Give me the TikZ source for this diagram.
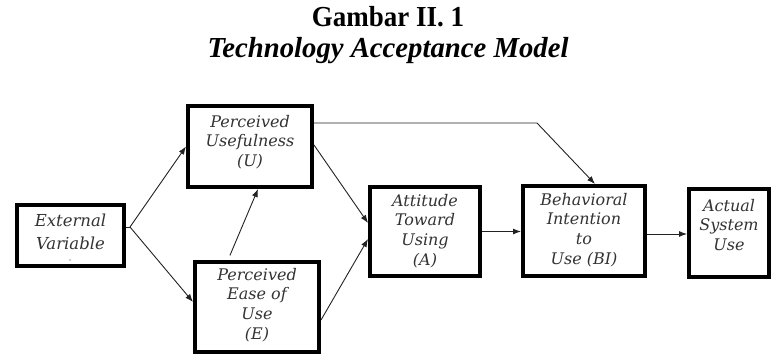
\documentclass[tikz,border=0pt]{standalone}
\usepackage{fontspec}
\setmainfont{Liberation Serif}
\newfontfamily\boxfont{DejaVu Serif}
\usetikzlibrary{arrows.meta}
\definecolor{txtc}{HTML}{333333}
\definecolor{arrc}{HTML}{222222}
\begin{document}
\begin{tikzpicture}[x=1pt,y=-1pt,
  box/.style={draw=black,line width=4pt,inner sep=0pt,fill=white},
  lbl/.style={font=\boxfont\itshape\fontsize{16}{19.8}\selectfont,text=txtc,align=center,inner sep=0pt},
  ttl/.style={font=\bfseries\fontsize{29}{32}\selectfont,inner sep=0pt},
  arr/.style={-{Latex[length=8pt,width=6pt]},line width=0.9pt,draw=arrc}]
\useasboundingbox (0,0) rectangle (773,356);
% title
\node[ttl] (t1) at (388,17) {\scalebox{0.93}[1]{Gambar II. 1}};
\node[ttl,font=\bfseries\itshape\fontsize{29}{32}\selectfont] (t2) at (388,51) {\scalebox{0.99}[1]{Technology Acceptance Model}};
% boxes
\node[box,minimum width=107pt,minimum height=61pt] (ev) at (70.5,235.5) {};
\node[box,minimum width=124pt,minimum height=81pt] (pu) at (250,146.5) {};
\node[box,minimum width=124pt,minimum height=90pt] (peou) at (257,307) {};
\node[box,minimum width=110pt,minimum height=89pt] (att) at (425,231.5) {};
\node[box,minimum width=122pt,minimum height=90pt] (bi) at (584,231) {};
\node[box,minimum width=80pt,minimum height=88pt] (au) at (729,233) {};
% texts
\node[lbl,font=\boxfont\itshape\fontsize{16.5}{23}\selectfont] (evt) at (70.5,232) {External\\Variable};
\node[lbl,font=\boxfont\fontsize{5}{6}\selectfont] (evm) at (70.5,261) {„};
\node[lbl] (put) at (250,142) {Perceived\\Usefulness\\(U)};
\node[lbl] (peout) at (257,305) {Perceived\\Ease of\\Use\\(E)};
\node[lbl] (attt) at (425,231) {Attitude\\Toward\\Using\\(A)};
\node[lbl] (bit) at (584,230) {Behavioral\\Intention\\to\\Use (BI)};
\node[lbl] (aut) at (729,225) {Actual\\System\\Use};
% connectors
\coordinate (evo) at (130,227);
\draw[arrc,line width=0.9pt] (ev.east |- evo) -- (evo);
\draw[arr] (evo) -- (pu.west);
\draw[arr] (evo) -- ([yshift=5pt]peou.west);
\draw[arr,shorten <=5pt] ([xshift=-29pt]peou.north) -- ([xshift=8pt]pu.south);
\draw[arr] ([yshift=1.5pt]pu.east) -- ([yshift=8.5pt]att.west);
\draw[arr] ([yshift=-13pt]peou.east) -- ([yshift=-7.5pt]att.west);
\draw[arr] (att.east) -- (att.east -| bi.west);
\draw[arr] ([yshift=-3pt]bi.east) -- ([yshift=-3pt]bi.east -| au.west);
\coordinate (bend) at (537,123);
\draw[arr] (pu.east |- bend) -- (bend) -- ([xshift=11pt]bi.north);
\end{tikzpicture}
\end{document}
